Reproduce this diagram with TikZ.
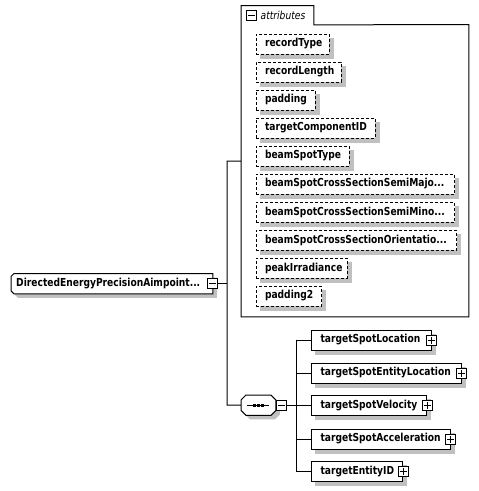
\documentclass[tikz,border=0pt]{standalone}
\usepackage{fontspec}
\newfontfamily\dfont{DejaVu Sans}[FakeStretch=0.83]
\pgfdeclarelayer{bg}
\pgfdeclarelayer{shade}
\pgfdeclarelayer{shapes}
\pgfsetlayers{bg,shade,shapes,main}
\definecolor{shadowgray}{RGB}{192,192,192}
\tikzset{
  base/.style={line width=1pt},
  lbl/.style={font=\dfont\bfseries\fontsize{11}{13}\selectfont, text=black},
  attrbox/.style={base, lbl, draw, dash pattern=on 3pt off 2pt, fill=white,
    anchor=north west, minimum height=20pt, inner xsep=9pt, inner ysep=0pt, align=left},
  childbox/.style={base, lbl, draw, fill=white,
    anchor=north west, minimum height=20pt, inner xsep=9pt, inner ysep=0pt, align=left},
  pmbox/.style={base, draw, fill=white, minimum size=10pt, inner sep=0pt},
  plain/.style={inner sep=0pt, minimum size=0pt},
  conn/.style={base, draw=black},
  shadowfill/.style={fill=shadowgray, transform canvas={xshift=4pt, yshift=-4pt}},
}
\begin{document}
\begin{tikzpicture}[x=1pt,y=-1pt]
\begin{pgfonlayer}{bg}
\fill[white] (0,0) rectangle (479,491);
\end{pgfonlayer}
\useasboundingbox (0,0) rectangle (479,491);

% ---------- attributes container ----------
\node[plain, anchor=north west, minimum width=72.5pt, minimum height=19pt] (tab) at (241,5.5) {};
\node[plain, anchor=north west, minimum width=227.5pt, minimum height=292pt] (attrs) at (241,24.5) {};
\draw[base] (attrs.south west) -- (tab.north west) -- (tab.north east) -- (tab.south east)
  -- (attrs.north east) -- (attrs.south east) -- cycle;
\node[pmbox] (tabm) at (251.5,15.5) {};
\draw[base] ([xshift=2pt]tabm.west) -- ([xshift=-2pt]tabm.east);
\node[plain, anchor=west, font=\dfont\itshape\fontsize{11}{13}\selectfont] (tabt) at (260.5,15.5) {attributes};

% attribute boxes
\node[attrbox, text width=55pt]  (a1)  at (255.5,33.5)  {recordType};
\node[attrbox, text width=67pt]  (a2)  at (255.5,61.5)  {recordLength};
\node[attrbox, text width=41pt]  (a3)  at (255.5,89.5)  {padding};
\node[attrbox, text width=101pt] (a4)  at (255.5,117.5) {targetComponentID};
\node[attrbox, text width=75pt]  (a5)  at (255.5,145.5) {beamSpotType};
\node[attrbox, text width=180.5pt] (a6) at (255.5,173.5) {beamSpotCrossSectionSemiMajo...};
\node[attrbox, text width=180.5pt] (a7) at (255.5,201.5) {beamSpotCrossSectionSemiMino...};
\node[attrbox, text width=182.5pt] (a8) at (255.5,229.5) {beamSpotCrossSectionOrientatio...};
\node[attrbox, text width=73pt]  (a9)  at (255.5,257.5) {peakIrradiance};
\node[attrbox, text width=47.5pt] (a10) at (255.5,285.5) {padding2};

% ---------- root element ----------
\node[lbl, anchor=north west, minimum width=201.5pt, minimum height=20pt, inner xsep=5pt, inner ysep=0pt,
  text width=191.5pt, align=left] (root) at (11,273.5) {DirectedEnergyPrecisionAimpoint...};
\begin{pgfonlayer}{shade}
  \fill[shadowfill] ([xshift=3pt]root.north west) -- (root.north east) -- (root.south east)
    -- ([xshift=3pt]root.south west) -- ([yshift=3pt]root.south west) -- ([yshift=-3pt]root.north west) -- cycle;
\end{pgfonlayer}
\begin{pgfonlayer}{shapes}
  \draw[base, fill=white] ([xshift=3pt]root.north west) -- (root.north east) -- (root.south east)
    -- ([xshift=3pt]root.south west) -- ([yshift=3pt]root.south west) -- ([yshift=-3pt]root.north west) -- cycle;
\end{pgfonlayer}
\node[pmbox] (rootm) at (root.east) {};
\draw[base] ([xshift=2pt]rootm.west) -- ([xshift=-2pt]rootm.east);

% ---------- sequence compositor ----------
\node[plain, anchor=north west, minimum width=34.5pt, minimum height=20pt] (seq) at (241,395) {};
\begin{pgfonlayer}{shade}
  \fill[shadowfill] ([xshift=5pt]seq.north west) -- ([xshift=-5pt]seq.north east)
    -- ([yshift=-5pt]seq.north east) -- ([yshift=5pt]seq.south east) -- ([xshift=-5pt]seq.south east)
    -- ([xshift=5pt]seq.south west) -- ([yshift=5pt]seq.south west) -- ([yshift=-5pt]seq.north west) -- cycle;
\end{pgfonlayer}
\begin{pgfonlayer}{shapes}
  \draw[base, fill=white] ([xshift=5pt]seq.north west) -- ([xshift=-5pt]seq.north east)
    -- ([yshift=-5pt]seq.north east) -- ([yshift=5pt]seq.south east) -- ([xshift=-5pt]seq.south east)
    -- ([xshift=5pt]seq.south west) -- ([yshift=5pt]seq.south west) -- ([yshift=-5pt]seq.north west) -- cycle;
\end{pgfonlayer}
\draw[base] ([xshift=-11pt]seq.center) -- ([xshift=11pt]seq.center);
\foreach \dx in {-4,0,4} {
  \fill ([shift={(\dx pt-1.5pt,-1.5pt)}]seq.center) rectangle ([shift={(\dx pt+1.5pt,1.5pt)}]seq.center);
}
\node[pmbox, anchor=west] (seqm) at (seq.east) {};
\draw[base] ([xshift=2pt]seqm.west) -- ([xshift=-2pt]seqm.east);

% ---------- children ----------
\node[childbox, text width=101.5pt] (c1) at (311,329.5) {targetSpotLocation};
\node[childbox, text width=131.5pt] (c2) at (311,362.5) {targetSpotEntityLocation};
\node[childbox, text width=97pt]    (c3) at (311,395)   {targetSpotVelocity};
\node[childbox, text width=120.5pt] (c4) at (311,428.5) {targetSpotAcceleration};
\node[childbox, text width=73pt]    (c5) at (311,461)   {targetEntityID};
\foreach \c in {c1,c2,c3,c4,c5} {
  \node[pmbox] (\c p) at (\c.east) {};
  \draw[base] ([xshift=2pt]\c p.west) -- ([xshift=-2pt]\c p.east);
  \draw[base] ([yshift=2pt]\c p.south) -- ([yshift=-2pt]\c p.north);
}

% ---------- shadows of boxes ----------
\begin{pgfonlayer}{shade}
\foreach \b in {a1,a2,a3,a4,a5,a6,a7,a8,a9,a10,c1,c2,c3,c4,c5} {
  \fill[shadowfill] (\b.north west) rectangle (\b.south east);
}
\end{pgfonlayer}

% ---------- connectors ----------
\coordinate (j1) at (227,161);
\coordinate (j2) at (227,405);
\coordinate (k1) at (296,339.5);
\coordinate (k5) at (296,471);
\draw[conn] (rootm.east) -- (rootm.east -| j1);
\draw[conn] (attrs.west |- j1) -- (j1) -- (j2) -- (seq.west);
\draw[conn] (seqm.east) -- (seqm.east -| k1);
\draw[conn] (k1) -- (k5);
\foreach \c in {c1,c2,c3,c4,c5} {
  \draw[conn] (\c.west -| k1) -- (\c.west);
}
\end{tikzpicture}
\end{document}
